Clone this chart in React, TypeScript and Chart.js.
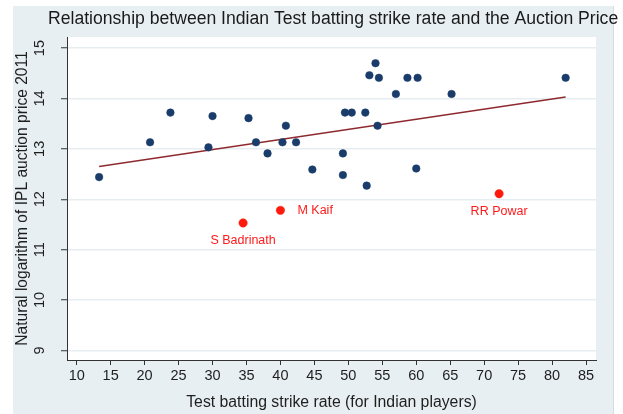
import React, { useEffect, useRef } from "react";
import { Chart, registerables } from "chart.js";

Chart.register(...registerables);

const chartTitle = "Relationship between Indian Test batting strike rate and the Auction Price";
const xAxisTitle = "Test batting strike rate (for Indian players)";
const yAxisTitle = "Natural logarithm of IPL auction price 2011";

const xTicks = [10, 15, 20, 25, 30, 35, 40, 45, 50, 55, 60, 65, 70, 75, 80, 85];
const yTicks = [9, 10, 11, 12, 13, 14, 15];

const playerStrikeRate = [
  13.3, 20.8, 23.8, 29.4, 30.0, 35.3, 36.4, 38.1, 40.3, 40.8, 42.3, 44.7, 49.2, 49.2,
  49.5, 50.5, 52.5, 52.7, 53.1, 54.0, 54.3, 54.5, 57.0, 58.7, 60.0, 60.2, 65.2, 82.0,
];
const playerLogPrice = [
  12.44, 13.13, 13.72, 13.03, 13.65, 13.61, 13.13, 12.91, 13.13, 13.46, 13.13, 12.59, 12.91, 12.48,
  13.72, 13.72, 13.72, 12.27, 14.46, 14.70, 13.46, 14.41, 14.09, 14.41, 12.61, 14.41, 14.09, 14.41,
];

const outlierNames = ["S Badrinath", "M Kaif", "RR Powar"];
const outlierStrikeRate = [34.5, 40.0, 72.2];
const outlierLogPrice = [11.53, 11.78, 12.11];
const outlierLabelPlace = ["below", "right", "below"];

const fitStrikeRate = [13.3, 82.0];
const fitLogPrice = [12.65, 14.03];

const FONT = "'Liberation Sans', Arial, Helvetica, sans-serif";

export default function App() {
  const ref = useRef<HTMLCanvasElement | null>(null);

  useEffect(() => {
    document.body.style.margin = "0";
    const canvas = ref.current;
    if (!canvas) return;

    const bgPlugin = {
      id: "bgPlugin",
      beforeDraw(chart: any) {
        const { ctx, chartArea, width, height } = chart;
        ctx.save();
        ctx.fillStyle = "#ffffff";
        ctx.fillRect(0, 0, width, height);
        ctx.fillStyle = "#e8eff2";
        ctx.fillRect(13, 6, 600, height - 6);
        ctx.strokeStyle = "#d3dce0";
        ctx.lineWidth = 1;
        ctx.beginPath();
        ctx.moveTo(613.5, 6);
        ctx.lineTo(613.5, height);
        ctx.stroke();
        ctx.fillStyle = "#ffffff";
        ctx.fillRect(chartArea.left, chartArea.top, chartArea.right - chartArea.left, chartArea.bottom - chartArea.top);
        ctx.restore();
      },
      afterDraw(chart: any) {
        const { ctx } = chart;
        ctx.save();
        ctx.fillStyle = "#1a1a1a";
        ctx.font = `17.6px ${FONT}`;
        ctx.textAlign = "left";
        ctx.textBaseline = "middle";
        ctx.fillText(chartTitle, 48, 19);
        ctx.restore();
      },
      afterDatasetsDraw(chart: any) {
        const { ctx } = chart;
        const meta = chart.getDatasetMeta(1);
        ctx.save();
        ctx.fillStyle = "#ff1a1a";
        ctx.font = `12.5px ${FONT}`;
        meta.data.forEach((el: any, i: number) => {
          const place = outlierLabelPlace[i];
          if (place === "right") {
            ctx.textAlign = "left";
            ctx.textBaseline = "middle";
            ctx.fillText(outlierNames[i], el.x + 17, el.y);
          } else {
            ctx.textAlign = "center";
            ctx.textBaseline = "middle";
            ctx.fillText(outlierNames[i], el.x, el.y + 18);
          }
        });
        ctx.restore();
      },
    };

    const chart = new Chart(canvas, {
      type: "scatter",
      data: {
        datasets: [
          {
            label: "players",
            data: playerStrikeRate.map((x, i) => ({ x, y: playerLogPrice[i] })),
            backgroundColor: "#1a3c6b",
            borderColor: "#1a3c6b",
            pointRadius: 3.8,
            borderWidth: 0.5,
            order: 1,
          },
          {
            label: "outliers",
            data: outlierStrikeRate.map((x, i) => ({ x, y: outlierLogPrice[i] })),
            backgroundColor: "#ff1a0d",
            borderColor: "#ff1a0d",
            pointRadius: 4.2,
            borderWidth: 0.5,
            order: 1,
          },
          {
            label: "fit",
            type: "line",
            data: fitStrikeRate.map((x, i) => ({ x, y: fitLogPrice[i] })),
            borderColor: "#8e2a2f",
            borderWidth: 1.5,
            pointRadius: 0,
            showLine: true,
            fill: false,
            order: 3,
          } as any,
        ],
      },
      options: {
        responsive: false,
        animation: false,
        devicePixelRatio: 1,
        layout: { padding: { left: 0, top: 37, right: 27, bottom: 0 } },
        plugins: {
          legend: { display: false },
          tooltip: { enabled: false },
          title: { display: false },
        },
        scales: {
          x: {
            type: "linear",
            min: 8.57,
            max: 86.47,
            afterBuildTicks: (s: any) => {
              s.ticks = xTicks.map((v) => ({ value: v }));
            },
            afterFit: (s: any) => {
              s.height = 54;
            },
            grid: {
              drawOnChartArea: false,
              drawTicks: true,
              tickLength: 5,
              tickColor: "#333333",
              tickWidth: 1,
            },
            border: { display: true, color: "#333333", width: 1 },
            ticks: {
              autoSkip: false,
              maxRotation: 0,
              minRotation: 0,
              padding: 2,
              color: "#1e1e1e",
              font: { family: FONT, size: 14.5 },
            },
            title: {
              display: true,
              text: xAxisTitle,
              color: "#1e1e1e",
              font: { family: FONT, size: 15.8 },
              padding: { top: 0, bottom: 1.5 },
            },
          },
          y: {
            type: "linear",
            min: 8.81,
            max: 15.22,
            afterBuildTicks: (s: any) => {
              s.ticks = yTicks.map((v) => ({ value: v }));
            },
            afterFit: (s: any) => {
              s.width = 67;
            },
            grid: {
              drawOnChartArea: true,
              color: "#e6eef1",
              lineWidth: 1.5,
              drawTicks: true,
              tickLength: 6,
              tickColor: "#333333",
              tickWidth: 1,
            },
            border: { display: true, color: "#333333", width: 1 },
            ticks: {
              autoSkip: false,
              minRotation: 90,
              maxRotation: 90,
              crossAlign: "center",
              padding: 13,
              color: "#1e1e1e",
              font: { family: FONT, size: 14.5 },
            },
            title: {
              display: true,
              text: yAxisTitle,
              color: "#1e1e1e",
              font: { family: FONT, size: 15.6 },
              padding: { top: 13.5, bottom: 0 },
            },
          },
        },
      },
      plugins: [bgPlugin],
    });

    return () => chart.destroy();
  }, []);

  return (
    <div style={{ width: 623, height: 414 }}>
      <canvas ref={ref} width={623} height={414} style={{ width: 623, height: 414, display: "block" }} />
    </div>
  );
}
